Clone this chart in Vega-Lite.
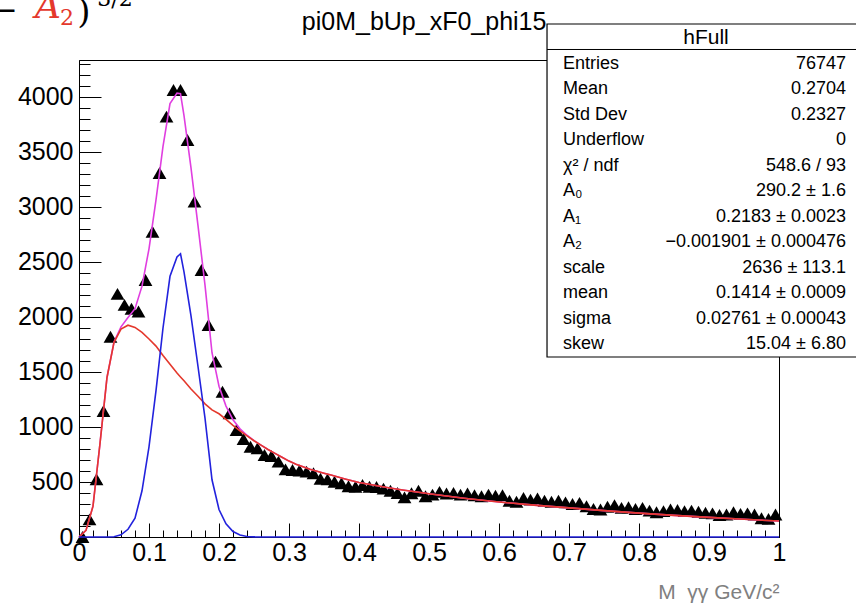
{
  "$schema": "https://vega.github.io/schema/vega-lite/v6.json",
  "autosize": {"type": "none"},
  "width": 700,
  "height": 477,
  "padding": {"left": 79, "top": 60, "right": 77, "bottom": 67},
  "background": "white",
  "config": {
    "view": {"stroke": "black", "strokeWidth": 1},
    "font": "Liberation Sans",
    "axis": {"grid": false, "domainColor": "black", "tickColor": "black", "labelColor": "black", "labelFont": "Liberation Sans", "labelFontSize": 25, "titleFont": "Liberation Sans"}
  },
  "datasets": {
    "hist": [
      {"m":0.005,"count":0},{"m":0.015,"count":160},{"m":0.025,"count":525},{"m":0.035,"count":1145},{"m":0.045,"count":1820},
      {"m":0.055,"count":2210},{"m":0.065,"count":2110},{"m":0.075,"count":2075},{"m":0.085,"count":2050},{"m":0.095,"count":2336},
      {"m":0.105,"count":2775},{"m":0.115,"count":3309},{"m":0.125,"count":3821},{"m":0.135,"count":4064},{"m":0.145,"count":4064},
      {"m":0.155,"count":3609},{"m":0.165,"count":3050},{"m":0.175,"count":2427},{"m":0.185,"count":1927},{"m":0.195,"count":1594},
      {"m":0.205,"count":1321},{"m":0.215,"count":1124},{"m":0.225,"count":973},{"m":0.235,"count":890},{"m":0.245,"count":821},
      {"m":0.255,"count":806},{"m":0.265,"count":745},{"m":0.275,"count":736},{"m":0.285,"count":685},{"m":0.295,"count":615},
      {"m":0.305,"count":609},{"m":0.315,"count":605},{"m":0.325,"count":594},{"m":0.335,"count":579},{"m":0.345,"count":530},
      {"m":0.355,"count":524},{"m":0.365,"count":503},{"m":0.375,"count":488},{"m":0.385,"count":462},{"m":0.395,"count":457},
      {"m":0.405,"count":473},{"m":0.415,"count":457},{"m":0.425,"count":455},{"m":0.435,"count":440},{"m":0.445,"count":420},
      {"m":0.455,"count":400},{"m":0.465,"count":360},{"m":0.475,"count":397},{"m":0.485,"count":420},{"m":0.495,"count":370},
      {"m":0.505,"count":385},{"m":0.515,"count":410},{"m":0.525,"count":395},{"m":0.535,"count":400},{"m":0.545,"count":385},
      {"m":0.555,"count":395},{"m":0.565,"count":380},{"m":0.575,"count":370},{"m":0.585,"count":385},{"m":0.595,"count":375},
      {"m":0.605,"count":380},{"m":0.615,"count":330},{"m":0.625,"count":320},{"m":0.635,"count":355},{"m":0.645,"count":340},
      {"m":0.655,"count":350},{"m":0.665,"count":330},{"m":0.675,"count":320},{"m":0.685,"count":330},{"m":0.695,"count":315},
      {"m":0.705,"count":300},{"m":0.715,"count":310},{"m":0.725,"count":280},{"m":0.735,"count":255},{"m":0.745,"count":250},
      {"m":0.755,"count":275},{"m":0.765,"count":290},{"m":0.775,"count":265},{"m":0.785,"count":270},{"m":0.795,"count":255},
      {"m":0.805,"count":265},{"m":0.815,"count":240},{"m":0.825,"count":225},{"m":0.835,"count":235},{"m":0.845,"count":250},
      {"m":0.855,"count":245},{"m":0.865,"count":235},{"m":0.875,"count":240},{"m":0.885,"count":230},{"m":0.895,"count":220},
      {"m":0.905,"count":215},{"m":0.915,"count":200},{"m":0.925,"count":205},{"m":0.935,"count":225},{"m":0.945,"count":210},
      {"m":0.955,"count":215},{"m":0.965,"count":205},{"m":0.975,"count":170},{"m":0.985,"count":165},{"m":0.995,"count":205}
    ],
    "fit": [
      {"m":0,"background":0,"signal":0,"total":0},
      {"m":0.01,"background":60,"signal":0,"total":60},
      {"m":0.02,"background":280,"signal":0,"total":280},
      {"m":0.03,"background":850,"signal":0,"total":850},
      {"m":0.04,"background":1450,"signal":0,"total":1450},
      {"m":0.05,"background":1770,"signal":2,"total":1772},
      {"m":0.06,"background":1890,"signal":20,"total":1910},
      {"m":0.07,"background":1925,"signal":70,"total":1995},
      {"m":0.08,"background":1905,"signal":170,"total":2075},
      {"m":0.09,"background":1860,"signal":420,"total":2280},
      {"m":0.1,"background":1800,"signal":820,"total":2620},
      {"m":0.11,"background":1735,"signal":1330,"total":3065},
      {"m":0.12,"background":1650,"signal":1900,"total":3550},
      {"m":0.13,"background":1570,"signal":2370,"total":3940},
      {"m":0.14,"background":1490,"signal":2545,"total":4035},
      {"m":0.145,"background":1455,"signal":2575,"total":4030},
      {"m":0.15,"background":1420,"signal":2410,"total":3830},
      {"m":0.16,"background":1345,"signal":2010,"total":3355},
      {"m":0.17,"background":1280,"signal":1550,"total":2830},
      {"m":0.18,"background":1210,"signal":1080,"total":2290},
      {"m":0.19,"background":1155,"signal":520,"total":1675},
      {"m":0.2,"background":1120,"signal":250,"total":1370},
      {"m":0.21,"background":1070,"signal":120,"total":1190},
      {"m":0.22,"background":1015,"signal":50,"total":1065},
      {"m":0.23,"background":965,"signal":18,"total":983},
      {"m":0.24,"background":920,"signal":5,"total":925},
      {"m":0.25,"background":875,"signal":1,"total":876},
      {"m":0.26,"background":835,"signal":0,"total":835},
      {"m":0.27,"background":795,"signal":0,"total":795},
      {"m":0.28,"background":760,"signal":0,"total":760},
      {"m":0.29,"background":725,"signal":0,"total":725},
      {"m":0.3,"background":690,"signal":0,"total":690},
      {"m":0.31,"background":662,"signal":0,"total":662},
      {"m":0.32,"background":638,"signal":0,"total":638},
      {"m":0.33,"background":615,"signal":0,"total":615},
      {"m":0.34,"background":598,"signal":0,"total":598},
      {"m":0.35,"background":580,"signal":0,"total":580},
      {"m":0.36,"background":563,"signal":0,"total":563},
      {"m":0.37,"background":545,"signal":0,"total":545},
      {"m":0.38,"background":528,"signal":0,"total":528},
      {"m":0.39,"background":511,"signal":0,"total":511},
      {"m":0.4,"background":496,"signal":0,"total":496},
      {"m":0.42,"background":472,"signal":0,"total":472},
      {"m":0.44,"background":450,"signal":0,"total":450},
      {"m":0.46,"background":430,"signal":0,"total":430},
      {"m":0.48,"background":411,"signal":0,"total":411},
      {"m":0.5,"background":393,"signal":0,"total":393},
      {"m":0.55,"background":352,"signal":0,"total":352},
      {"m":0.6,"background":318,"signal":0,"total":318},
      {"m":0.65,"background":290,"signal":0,"total":290},
      {"m":0.7,"background":265,"signal":0,"total":265},
      {"m":0.75,"background":240,"signal":0,"total":240},
      {"m":0.8,"background":217,"signal":0,"total":217},
      {"m":0.85,"background":197,"signal":0,"total":197},
      {"m":0.9,"background":178,"signal":0,"total":178},
      {"m":0.95,"background":161,"signal":0,"total":161},
      {"m":1.0,"background":145,"signal":0,"total":145}
    ],
    "stats": [
      {"label":"Entries","value":"76747"},
      {"label":"Mean","value":"0.2704"},
      {"label":"Std Dev","value":"0.2327"},
      {"label":"Underflow","value":"0"},
      {"label":"χ² / ndf","value":"548.6 / 93"},
      {"label":"A₀","value":"290.2 ± 1.6"},
      {"label":"A₁","value":"0.2183 ± 0.0023"},
      {"label":"A₂","value":"−0.001901 ± 0.000476"},
      {"label":"scale","value":"2636 ± 113.1"},
      {"label":"mean","value":"0.1414 ± 0.0009"},
      {"label":"sigma","value":"0.02761 ± 0.00043"},
      {"label":"skew","value":"15.04 ± 6.80"}
    ],
    "header": [{"name":"hFull","title":"pi0M_bUp_xF0_phi15"}]
  },
  "resolve": {"scale": {"x": "independent", "y": "independent"}},
  "layer": [
    {
      "layer": [
        {
          "data": {"name": "hist"},
          "mark": {"type": "point", "shape": "triangle-up", "filled": true, "color": "black", "size": 190, "opacity": 1, "strokeWidth": 0},
          "encoding": {
            "x": {"field": "m", "type": "quantitative", "scale": {"domain": [0, 1], "nice": false, "zero": false},
              "axis": {"orient": "bottom", "values": [0,0.1,0.2,0.3,0.4,0.5,0.6,0.7,0.8,0.9,1], "format": "~g", "tickSize": -14, "labelPadding": 17, "labelFlush": false, "labelOverlap": false,
                "title": "M\u00a0\u00a0γγ GeV/c²", "titleColor": "#808080", "titleFontSize": 21, "titleFontWeight": "normal", "titleAnchor": "end", "titleAlign": "right", "titleBaseline": "alphabetic", "titleY": 61}},
            "y": {"field": "count", "type": "quantitative", "scale": {"domain": [0, 4336], "nice": false, "zero": false},
              "axis": {"orient": "left", "values": [0,500,1000,1500,2000,2500,3000,3500,4000], "format": "d", "tickSize": -22, "labelPadding": 28, "labelOverlap": false, "title": null}}
          }
        },
        {
          "data": {"name": "fit"},
          "mark": {"type": "line", "color": "#e03ee0", "strokeWidth": 1.6},
          "encoding": {"x": {"field": "m", "type": "quantitative"}, "y": {"field": "total", "type": "quantitative"}}
        },
        {
          "data": {"name": "fit"},
          "mark": {"type": "line", "color": "#e4382c", "strokeWidth": 1.6},
          "encoding": {"x": {"field": "m", "type": "quantitative"}, "y": {"field": "background", "type": "quantitative"}}
        },
        {
          "data": {"name": "fit"},
          "mark": {"type": "line", "color": "#2222dd", "strokeWidth": 1.6},
          "encoding": {"x": {"field": "m", "type": "quantitative"}, "y": {"field": "signal", "type": "quantitative"}}
        },
        {
          "data": {"name": "header"},
          "mark": {"type": "text", "font": "Liberation Sans", "fontSize": 25, "color": "black", "align": "center", "baseline": "alphabetic"},
          "encoding": {"x": {"datum": 0.493, "type": "quantitative"}, "y": {"datum": 4608.7, "type": "quantitative"}, "text": {"field": "title"}}
        },
        {
          "data": {"name": "header"},
          "mark": {"type": "rect", "fill": "white", "stroke": "black", "strokeWidth": 1.2},
          "encoding": {"x": {"datum": 0.6686, "type": "quantitative"}, "x2": {"datum": 1.125}, "y": {"datum": 1636.2, "type": "quantitative"}, "y2": {"datum": 4663.2}}
        },
        {
          "data": {"name": "header"},
          "mark": {"type": "rule", "stroke": "black", "strokeWidth": 1},
          "encoding": {"x": {"datum": 0.6686, "type": "quantitative"}, "x2": {"datum": 1.125}, "y": {"datum": 4431.5, "type": "quantitative"}}
        },
        {
          "data": {"name": "header"},
          "mark": {"type": "text", "text": "−", "font": "DejaVu Serif", "fontSize": 30, "color": "black", "align": "center", "baseline": "alphabetic"},
          "encoding": {"x": {"datum": -0.1057, "type": "quantitative"}, "y": {"datum": 4699.6, "type": "quantitative"}}
        },
        {
          "data": {"name": "header"},
          "mark": {"type": "text", "text": "A", "font": "DejaVu Serif", "fontStyle": "italic", "fontSize": 36, "color": "#e4382c", "align": "center", "baseline": "alphabetic"},
          "encoding": {"x": {"datum": -0.0443, "type": "quantitative"}, "y": {"datum": 4717.8, "type": "quantitative"}}
        },
        {
          "data": {"name": "header"},
          "mark": {"type": "text", "text": "2", "font": "DejaVu Serif", "fontSize": 22, "color": "#e4382c", "align": "center", "baseline": "alphabetic"},
          "encoding": {"x": {"datum": -0.0171, "type": "quantitative"}, "y": {"datum": 4654.2, "type": "quantitative"}}
        },
        {
          "data": {"name": "header"},
          "mark": {"type": "text", "text": ")", "font": "DejaVu Serif", "fontSize": 34, "color": "black", "align": "center", "baseline": "alphabetic"},
          "encoding": {"x": {"datum": 0.00714, "type": "quantitative"}, "y": {"datum": 4672.3, "type": "quantitative"}}
        },
        {
          "data": {"name": "header"},
          "mark": {"type": "text", "text": "3/2", "font": "DejaVu Serif", "fontSize": 22, "color": "black", "align": "center", "baseline": "alphabetic"},
          "encoding": {"x": {"datum": 0.0514, "type": "quantitative"}, "y": {"datum": 4826.9, "type": "quantitative"}}
        }
      ]
    },
    {
      "data": {"name": "hist"},
      "mark": {"type": "point", "opacity": 0},
      "encoding": {
        "x": {"field": "m", "type": "quantitative", "scale": {"domain": [0, 1], "nice": false, "zero": false},
          "axis": {"orient": "bottom", "values": [0,0.02,0.04,0.06,0.08,0.1,0.12,0.14,0.16,0.18,0.2,0.22,0.24,0.26,0.28,0.3,0.32,0.34,0.36,0.38,0.4,0.42,0.44,0.46,0.48,0.5,0.52,0.54,0.56,0.58,0.6,0.62,0.64,0.66,0.68,0.7,0.72,0.74,0.76,0.78,0.8,0.82,0.84,0.86,0.88,0.9,0.92,0.94,0.96,0.98,1], "tickSize": -7, "labels": false, "domain": false, "title": null}},
        "y": {"field": "count", "type": "quantitative", "scale": {"domain": [0, 4336], "nice": false, "zero": false},
          "axis": {"orient": "left", "values": [0,100,200,300,400,500,600,700,800,900,1000,1100,1200,1300,1400,1500,1600,1700,1800,1900,2000,2100,2200,2300,2400,2500,2600,2700,2800,2900,3000,3100,3200,3300,3400,3500,3600,3700,3800,3900,4000,4100,4200,4300], "tickSize": -11, "labels": false, "domain": false, "title": null}}
      }
    },
    {
      "layer": [
        {
          "data": {"name": "stats"},
          "mark": {"type": "text", "align": "left", "baseline": "middle", "fontSize": 18, "font": "Liberation Sans", "color": "black"},
          "encoding": {
            "x": {"datum": 0.6914, "type": "quantitative", "scale": {"domain": [0, 1], "nice": false, "zero": false}, "axis": null},
            "y": {"field": "label", "type": "nominal", "sort": null, "axis": null,
              "scale": {"type": "point", "domain": ["hFull","Entries","Mean","Std Dev","Underflow","χ² / ndf","A₀","A₁","A₂","scale","mean","sigma","skew"], "range": [-21.7, 284.3], "padding": 0}},
            "text": {"field": "label"}
          }
        },
        {
          "data": {"name": "stats"},
          "mark": {"type": "text", "align": "right", "baseline": "middle", "fontSize": 18, "font": "Liberation Sans", "color": "black"},
          "encoding": {
            "x": {"datum": 1.0957, "type": "quantitative"},
            "y": {"field": "label", "type": "nominal", "sort": null},
            "text": {"field": "value"}
          }
        },
        {
          "data": {"name": "header"},
          "mark": {"type": "text", "align": "center", "baseline": "middle", "fontSize": 21, "font": "Liberation Sans", "color": "black"},
          "encoding": {
            "x": {"datum": 0.8957, "type": "quantitative"},
            "y": {"field": "name", "type": "nominal"},
            "text": {"field": "name"}
          }
        }
      ]
    }
  ]
}
